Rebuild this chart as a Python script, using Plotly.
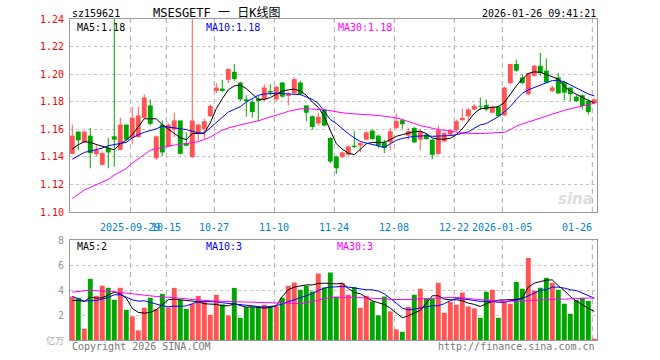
import plotly.graph_objects as go

# ---------------- data ----------------
dates = (
    ["2025-09-15", "2025-09-16", "2025-09-17", "2025-09-18", "2025-09-19", "2025-09-22", "2025-09-23",
     "2025-09-24", "2025-09-25", "2025-09-26", "2025-09-29", "2025-09-30",
     "2025-10-09", "2025-10-10", "2025-10-13", "2025-10-14", "2025-10-15", "2025-10-16", "2025-10-17",
     "2025-10-20", "2025-10-21", "2025-10-22", "2025-10-23", "2025-10-24", "2025-10-27", "2025-10-28",
     "2025-10-29", "2025-10-30", "2025-10-31",
     "2025-11-03", "2025-11-04", "2025-11-05", "2025-11-06", "2025-11-07", "2025-11-10", "2025-11-11",
     "2025-11-12", "2025-11-13", "2025-11-14", "2025-11-17", "2025-11-18", "2025-11-19", "2025-11-20",
     "2025-11-21", "2025-11-24", "2025-11-25", "2025-11-26", "2025-11-27", "2025-11-28",
     "2025-12-01", "2025-12-02", "2025-12-03", "2025-12-04", "2025-12-05", "2025-12-08", "2025-12-09",
     "2025-12-10", "2025-12-11", "2025-12-12", "2025-12-15", "2025-12-16", "2025-12-17", "2025-12-18",
     "2025-12-19", "2025-12-22", "2025-12-23", "2025-12-24", "2025-12-25", "2025-12-26", "2025-12-29",
     "2025-12-30", "2025-12-31",
     "2026-01-05", "2026-01-06", "2026-01-07", "2026-01-08", "2026-01-09", "2026-01-12", "2026-01-13",
     "2026-01-14", "2026-01-15", "2026-01-16", "2026-01-19", "2026-01-20", "2026-01-21", "2026-01-22",
     "2026-01-23", "2026-01-26"]
)

opens = [1.1422, 1.1583, 1.1505, 1.1554, 1.1420, 1.1342, 1.1464, 1.1549, 1.1451, 1.1634,
         1.1537, 1.1544, 1.1683, 1.1773, 1.1390, 1.1634, 1.1476, 1.1598, 1.1664, 1.1500,
         1.1398, 1.1573, 1.1603, 1.1695, 1.1878, 1.1895, 1.1959, 1.2017, 1.1939, 1.1817,
         1.1798, 1.1822, 1.1817, 1.1878, 1.1817, 1.1939, 1.1842, 1.1861, 1.1939, 1.1773,
         1.1695, 1.1642, 1.1744, 1.1537, 1.1403, 1.1398, 1.1415, 1.1481, 1.1481, 1.1525,
         1.1590, 1.1554, 1.1505, 1.1505, 1.1610, 1.1666, 1.1554, 1.1610, 1.1525, 1.1561,
         1.1525, 1.1422, 1.1512, 1.1561, 1.1593, 1.1666, 1.1695, 1.1744, 1.1769, 1.1776,
         1.1720, 1.1764, 1.1700, 1.1935, 1.2074, 1.1976, 1.1854, 1.1988, 1.2061, 1.2025,
         1.1878, 1.1976, 1.1944, 1.1903, 1.1837, 1.1847, 1.1805, 1.1788]
highs = [1.1634, 1.1586, 1.1590, 1.1610, 1.1488, 1.1439, 1.1537, 1.2400, 1.1683, 1.1634,
         1.1764, 1.1764, 1.1854, 1.1817, 1.1554, 1.1664, 1.1642, 1.1720, 1.1664, 1.1578,
         1.2400, 1.1639, 1.1676, 1.1781, 1.1935, 1.1959, 1.2042, 1.2074, 1.1944, 1.1847,
         1.1817, 1.1842, 1.1927, 1.1927, 1.1915, 1.1944, 1.1871, 1.1976, 1.1952, 1.1773,
         1.1700, 1.1720, 1.1749, 1.1544, 1.1408, 1.1439, 1.1481, 1.1586, 1.1505, 1.1586,
         1.1598, 1.1561, 1.1525, 1.1610, 1.1715, 1.1676, 1.1610, 1.1617, 1.1598, 1.1573,
         1.1529, 1.1627, 1.1578, 1.1603, 1.1671, 1.1749, 1.1756, 1.1781, 1.1830, 1.1817,
         1.1773, 1.1773, 1.1908, 1.2074, 1.2105, 1.2000, 1.2008, 1.2066, 1.2154, 1.2115,
         1.1915, 1.2008, 1.1952, 1.1903, 1.1854, 1.1854, 1.1817, 1.1822]
lows = [1.1417, 1.1447, 1.1500, 1.1317, 1.1403, 1.1337, 1.1317, 1.1329, 1.1447, 1.1520,
        1.1495, 1.1537, 1.1681, 1.1627, 1.1378, 1.1408, 1.1471, 1.1544, 1.1417, 1.1476,
        1.1390, 1.1520, 1.1525, 1.1691, 1.1861, 1.1871, 1.1935, 1.1952, 1.1805, 1.1691,
        1.1683, 1.1659, 1.1805, 1.1847, 1.1805, 1.1830, 1.1773, 1.1847, 1.1847, 1.1659,
        1.1598, 1.1627, 1.1622, 1.1354, 1.1276, 1.1390, 1.1408, 1.1464, 1.1432, 1.1520,
        1.1525, 1.1464, 1.1427, 1.1447, 1.1603, 1.1603, 1.1525, 1.1500, 1.1447, 1.1525,
        1.1383, 1.1415, 1.1505, 1.1554, 1.1586, 1.1659, 1.1659, 1.1739, 1.1739, 1.1732,
        1.1715, 1.1691, 1.1695, 1.1927, 1.2017, 1.1927, 1.1847, 1.1983, 1.1988, 1.1935,
        1.1871, 1.1854, 1.1812, 1.1805, 1.1798, 1.1744, 1.1708, 1.1781]
closes = [1.1554, 1.1520, 1.1583, 1.1427, 1.1451, 1.1427, 1.1432, 1.1525, 1.1634, 1.1525,
          1.1683, 1.1700, 1.1830, 1.1639, 1.1549, 1.1432, 1.1634, 1.1664, 1.1422, 1.1481,
          1.1664, 1.1634, 1.1659, 1.1769, 1.1903, 1.1878, 1.2037, 1.1964, 1.1817, 1.1805,
          1.1725, 1.1805, 1.1903, 1.1866, 1.1908, 1.1837, 1.1854, 1.1964, 1.1854, 1.1720,
          1.1617, 1.1691, 1.1627, 1.1366, 1.1317, 1.1432, 1.1476, 1.1471, 1.1500, 1.1578,
          1.1529, 1.1481, 1.1464, 1.1586, 1.1659, 1.1637, 1.1586, 1.1505, 1.1586, 1.1529,
          1.1415, 1.1593, 1.1573, 1.1593, 1.1659, 1.1683, 1.1744, 1.1769, 1.1764, 1.1744,
          1.1764, 1.1695, 1.1903, 1.2074, 1.2025, 1.1935, 1.2008, 1.2061, 1.2008, 1.1939,
          1.1903, 1.1861, 1.1866, 1.1854, 1.1805, 1.1769, 1.1725, 1.1817]

# volume in 万 (ten-thousands)
volumes = [3.48, 3.38, 0.90, 4.89, 3.54, 4.34, 4.18, 3.22, 4.18, 2.42,
           1.89, 0.77, 2.58, 3.38, 2.50, 3.69, 2.61, 4.17, 3.20, 2.49,
           2.89, 3.53, 3.15, 2.01, 3.61, 2.85, 1.96, 4.17, 1.78, 2.63,
           2.63, 2.63, 2.82, 2.71, 2.71, 3.38, 4.34, 4.60, 4.02, 4.34,
           3.88, 5.32, 4.20, 5.40, 3.48, 4.55, 3.62, 4.23, 2.58, 3.54,
           3.09, 1.97, 3.48, 2.29, 0.85, 0.66, 2.66, 3.62, 4.10, 3.32,
           3.32, 4.57, 2.18, 3.06, 2.82, 3.80, 2.69, 2.53, 1.78, 3.86,
           4.02, 1.78, 3.06, 2.90, 4.65, 4.10, 6.57, 3.94, 4.18, 4.97,
           4.57, 4.02, 2.90, 2.10, 3.22, 3.38, 3.14, 0.10]

ma5 = [1.1456, 1.1488, 1.1510, 1.1505, 1.1490, 1.1476, 1.1461, 1.1451, 1.1495, 1.1520,
       1.1561, 1.1617, 1.1676, 1.1676, 1.1676, 1.1634, 1.1603, 1.1573, 1.1539, 1.1525,
       1.1569, 1.1569, 1.1571, 1.1647, 1.1749, 1.1822, 1.1886, 1.1915, 1.1920, 1.1895,
       1.1856, 1.1817, 1.1817, 1.1830, 1.1854, 1.1876, 1.1886, 1.1891, 1.1878, 1.1847,
       1.1798, 1.1759, 1.1691, 1.1586, 1.1495, 1.1456, 1.1427, 1.1415, 1.1456, 1.1495,
       1.1505, 1.1505, 1.1505, 1.1525, 1.1549, 1.1561, 1.1573, 1.1583, 1.1586, 1.1569,
       1.1537, 1.1529, 1.1529, 1.1534, 1.1561, 1.1603, 1.1659, 1.1715, 1.1749, 1.1756,
       1.1759, 1.1764, 1.1793, 1.1854, 1.1915, 1.1964, 1.2005, 1.2017, 1.2013, 1.1998,
       1.1983, 1.1964, 1.1910, 1.1878, 1.1854, 1.1830, 1.1810, 1.1793]
ma10 = [1.1383, 1.1408, 1.1432, 1.1442, 1.1451, 1.1464, 1.1481, 1.1490, 1.1500, 1.1505,
        1.1537, 1.1561, 1.1578, 1.1588, 1.1603, 1.1622, 1.1617, 1.1608, 1.1603, 1.1598,
        1.1586, 1.1573, 1.1573, 1.1610, 1.1652, 1.1691, 1.1725, 1.1744, 1.1764, 1.1798,
        1.1822, 1.1847, 1.1856, 1.1861, 1.1861, 1.1859, 1.1854, 1.1854, 1.1852, 1.1834,
        1.1817, 1.1788, 1.1732, 1.1671, 1.1642, 1.1603, 1.1569, 1.1537, 1.1512, 1.1500,
        1.1488, 1.1476, 1.1469, 1.1495, 1.1520, 1.1534, 1.1544, 1.1549, 1.1551, 1.1554,
        1.1549, 1.1549, 1.1549, 1.1554, 1.1561, 1.1571, 1.1581, 1.1608, 1.1632, 1.1642,
        1.1666, 1.1691, 1.1727, 1.1764, 1.1817, 1.1861, 1.1886, 1.1903, 1.1925, 1.1939,
        1.1954, 1.1956, 1.1944, 1.1922, 1.1900, 1.1878, 1.1856, 1.1842]
ma30 = [1.1098, 1.1129, 1.1159, 1.1178, 1.1198, 1.1217, 1.1237, 1.1268, 1.1293, 1.1315,
        1.1354, 1.1388, 1.1417, 1.1447, 1.1461, 1.1466, 1.1476, 1.1486, 1.1490, 1.1495,
        1.1500, 1.1510, 1.1525, 1.1544, 1.1569, 1.1593, 1.1610, 1.1622, 1.1630, 1.1642,
        1.1652, 1.1661, 1.1676, 1.1688, 1.1703, 1.1715, 1.1730, 1.1742, 1.1749, 1.1749,
        1.1749, 1.1744, 1.1742, 1.1734, 1.1725, 1.1720, 1.1715, 1.1712, 1.1712, 1.1710,
        1.1708, 1.1700, 1.1695, 1.1691, 1.1683, 1.1671, 1.1659, 1.1642, 1.1627, 1.1617,
        1.1608, 1.1598, 1.1593, 1.1586, 1.1578, 1.1573, 1.1571, 1.1569, 1.1569, 1.1571,
        1.1573, 1.1573, 1.1578, 1.1598, 1.1622, 1.1639, 1.1652, 1.1666, 1.1681, 1.1695,
        1.1710, 1.1725, 1.1737, 1.1749, 1.1759, 1.1769, 1.1778, 1.1788]

vol_ma5 = [3.16, 3.16, 3.09, 3.43, 3.35, 3.38, 3.59, 3.83, 3.70, 3.35,
           2.53, 2.21, 2.15, 2.21, 2.42, 2.79, 3.22, 3.27, 3.22, 3.19,
           3.16, 3.06, 2.90, 2.90, 2.85, 2.74, 2.74, 2.90, 2.79, 2.63,
           2.66, 2.58, 2.55, 2.61, 2.74, 3.48, 4.02, 4.23, 4.34, 4.41,
           4.41, 4.52, 4.55, 4.49, 4.49, 4.55, 4.12, 3.80, 3.70, 3.40,
           3.14, 2.98, 2.85, 2.55, 2.15, 1.78, 1.94, 2.15, 2.37, 2.95,
           3.54, 3.54, 3.27, 3.22, 3.22, 3.14, 2.95, 2.85, 2.69, 2.90,
           3.09, 3.19, 3.22, 3.27, 3.24, 3.35, 4.23, 4.55, 4.65, 4.79,
           4.81, 4.34, 3.96, 3.48, 3.11, 2.79, 2.53, 2.29]
vol_ma10 = [3.48, 3.27, 3.11, 3.14, 3.16, 3.27, 3.40, 3.62, 3.62, 3.43,
            3.22, 3.11, 3.14, 3.01, 2.87, 2.74, 2.66, 2.71, 2.69, 2.74,
            2.90, 3.06, 3.09, 3.09, 3.06, 2.98, 2.93, 2.87, 2.82, 2.74,
            2.69, 2.63, 2.63, 2.69, 2.74, 2.90, 3.06, 3.19, 3.38, 3.54,
            3.70, 3.96, 4.15, 4.23, 4.26, 4.28, 4.23, 4.15, 4.07, 4.02,
            4.02, 3.91, 3.70, 3.35, 2.95, 2.55, 2.42, 2.47, 2.58, 2.66,
            2.74, 2.74, 2.90, 3.16, 3.32, 3.30, 3.22, 3.14, 3.09, 3.09,
            3.09, 3.01, 3.03, 3.14, 3.19, 3.32, 3.51, 3.75, 3.99, 4.02,
            4.23, 4.23, 4.15, 4.02, 3.96, 3.75, 3.54, 3.35]
vol_ma30 = [3.83, 3.88, 3.96, 3.99, 3.94, 3.88, 3.88, 3.86, 3.80, 3.75,
            3.70, 3.62, 3.56, 3.51, 3.48, 3.46, 3.43, 3.40, 3.35, 3.30,
            3.24, 3.19, 3.16, 3.14, 3.11, 3.09, 3.09, 3.09, 3.06, 3.03,
            3.01, 2.98, 2.95, 2.93, 2.93, 2.95, 2.95, 2.93, 2.90, 2.98,
            3.09, 3.19, 3.30, 3.40, 3.40, 3.43, 3.43, 3.40, 3.38, 3.35,
            3.35, 3.35, 3.30, 3.24, 3.22, 3.22, 3.24, 3.27, 3.30, 3.32,
            3.35, 3.38, 3.40, 3.40, 3.40, 3.38, 3.32, 3.27, 3.22, 3.16,
            3.14, 3.11, 3.09, 3.09, 3.09, 3.11, 3.16, 3.19, 3.22, 3.24,
            3.27, 3.27, 3.27, 3.30, 3.32, 3.35, 3.35, 3.35]

price_ticks = [1.10, 1.12, 1.14, 1.16, 1.18, 1.20, 1.22, 1.24]
vol_ticks = [2, 4, 6, 8]
label_dates = ["2025-09-29", "2025-10-15", "2025-10-27", "2025-11-10", "2025-11-24",
               "2025-12-08", "2025-12-22", "2026-01-05", "2026-01-26"]
label_texts = ["2025-09-29", "10-15", "10-27", "11-10", "11-24",
               "12-08", "12-22", "2026-01-05", "01-26"]
vol_grid_dates = ["2025-09-29", "2025-10-15", "2025-11-10", "2025-12-08",
                  "2025-12-22", "2026-01-05", "2026-01-26"]

symbol = "sz159621"
title = "MSESGETF 一 日K线图"
stamp = "2026-01-26 09:41:21"
legend_main = [("MA5:1.18", "#000000"), ("MA10:1.18", "#0000FF"), ("MA30:1.18", "#FF00FF")]
legend_vol = [("MA5:2", "#000000"), ("MA10:3", "#0000FF"), ("MA30:3", "#FF00FF")]

# ---------------- styling ----------------
UP = "#FF5555"
DOWN = "#00A600"
MONO = "DejaVu Sans Mono, Noto Sans CJK SC, monospace"
W, H = 660, 360
L, R, T, B = 70, 63, 19, 20
PW, PH = W - L - R, H - T - B


def px_x(px):
    return (px - L) / PW


def px_y(py):
    return (H - B - py) / PH


n = len(dates)
xs = list(range(n))
idx = {d: i for i, d in enumerate(dates)}
up = [c >= o for o, c in zip(opens, closes)]
cols = [UP if u else DOWN for u in up]

fig = go.Figure()

# wicks
for flag, col in ((True, UP), (False, DOWN)):
    wx, wy = [], []
    for i in xs:
        if up[i] == flag:
            wx += [i, i, None]
            wy += [lows[i], highs[i], None]
    fig.add_trace(go.Scatter(x=wx, y=wy, mode="lines", line=dict(color=col, width=1),
                             xaxis="x", yaxis="y", hoverinfo="skip"))

# bodies
min_body = 0.0006
fig.add_trace(go.Bar(
    x=xs,
    base=[min(o, c) for o, c in zip(opens, closes)],
    y=[max(abs(c - o), min_body) for o, c in zip(opens, closes)],
    width=0.82, marker=dict(color=cols, line=dict(width=0)),
    xaxis="x", yaxis="y", hoverinfo="skip"))

# price moving averages
for arr, col in ((ma5, "#000000"), (ma10, "#0000FF"), (ma30, "#FF00FF")):
    fig.add_trace(go.Scatter(x=xs, y=arr, mode="lines", line=dict(color=col, width=1),
                             xaxis="x", yaxis="y", hoverinfo="skip"))

# volume bars
fig.add_trace(go.Bar(x=xs, y=volumes, width=0.82, marker=dict(color=cols, line=dict(width=0)),
                     xaxis="x2", yaxis="y2", hoverinfo="skip"))
for arr, col in ((vol_ma5, "#000000"), (vol_ma10, "#0000FF"), (vol_ma30, "#FF00FF")):
    fig.add_trace(go.Scatter(x=xs, y=arr, mode="lines", line=dict(color=col, width=1),
                             xaxis="x2", yaxis="y2", hoverinfo="skip"))

xr = [-0.38, 87.45]
main_dom = [px_y(212), 1.0]
vol_dom = [0.0, px_y(240)]
frame = "#999999"
grid = "#C4C4C4"

fig.update_layout(
    width=W, height=H, margin=dict(l=L, r=R, t=T, b=B),
    paper_bgcolor="white", plot_bgcolor="white",
    showlegend=False, hovermode=False, barmode="overlay",
    font=dict(family=MONO, size=10),
    xaxis=dict(domain=[0, 1], range=xr, anchor="y", showticklabels=False, showgrid=False,
               zeroline=False, showline=True, mirror=True, linecolor=frame, linewidth=1, ticks=""),
    yaxis=dict(domain=main_dom, range=[1.10, 1.24], tickvals=price_ticks, tickformat=".2f",
               tickfont=dict(color="#FF0000", size=10, family=MONO), showgrid=True, gridcolor=grid,
               griddash="dot", gridwidth=1, zeroline=False, showline=True, mirror=True,
               linecolor=frame, linewidth=1, ticks="", ticklabelstandoff=3),
    xaxis2=dict(domain=[0, 1], range=xr, anchor="y2", showticklabels=False, showgrid=False,
                zeroline=False, showline=True, mirror=True, linecolor=frame, linewidth=1, ticks=""),
    yaxis2=dict(domain=vol_dom, range=[0, 8], tickvals=vol_ticks,
                tickfont=dict(color="#999999", size=10, family=MONO), showgrid=True, gridcolor=grid,
                griddash="dot", gridwidth=1, zeroline=False, showline=True, mirror=True,
                linecolor=frame, linewidth=1, ticks="", ticklabelstandoff=3),
)

# vertical dashed grid lines
dash_off = 0.33
for d in label_dates:
    i = idx[d]
    fig.add_shape(type="line", xref="x", yref="y domain", x0=i - dash_off, x1=i - dash_off,
                  y0=0, y1=1, line=dict(color="#AAAAAA", width=1, dash="5px,4px"), layer="below")
for d in vol_grid_dates:
    i = idx[d]
    fig.add_shape(type="line", xref="x2", yref="y2 domain", x0=i - dash_off, x1=i - dash_off,
                  y0=0, y1=1, line=dict(color="#AAAAAA", width=1, dash="5px,4px"), layer="below")

ann = []
# date labels
for k, (d, t) in enumerate(zip(label_dates, label_texts)):
    i = idx[d]
    last = k == len(label_dates) - 1
    ann.append(dict(xref="x", yref="paper", x=(i - 0.05) if last else (i - dash_off),
                    y=px_y(227), text=t, showarrow=False, xanchor="right" if last else "center",
                    yanchor="middle", font=dict(color="#0082D2", size=10, family=MONO)))

# header
ann.append(dict(xref="paper", yref="paper", x=px_x(70), y=px_y(13), text=symbol, showarrow=False,
                xanchor="left", yanchor="middle", font=dict(color="#000000", size=10, family=MONO)))
ann.append(dict(xref="paper", yref="paper", x=px_x(151), y=px_y(13), text=title, showarrow=False,
                xanchor="left", yanchor="middle", font=dict(color="#000000", size=12, family=MONO)))
ann.append(dict(xref="paper", yref="paper", x=px_x(598), y=px_y(13), text=stamp, showarrow=False,
                xanchor="right", yanchor="middle", font=dict(color="#000000", size=10, family=MONO)))

# legends
for (t, c), xp in zip(legend_main, (75, 204, 336)):
    ann.append(dict(xref="paper", yref="paper", x=px_x(xp), y=px_y(27), text=t, showarrow=False,
                    xanchor="left", yanchor="middle", font=dict(color=c, size=10, family=MONO)))
for (t, c), xp in zip(legend_vol, (75, 204, 335)):
    ann.append(dict(xref="paper", yref="paper", x=px_x(xp), y=px_y(246), text=t, showarrow=False,
                    xanchor="left", yanchor="middle", font=dict(color=c, size=10, family=MONO)))

# volume unit
ann.append(dict(xref="paper", yref="paper", x=px_x(66), y=px_y(340), text="亿万", showarrow=False,
                xanchor="right", yanchor="middle", font=dict(color="#AAAAAA", size=9, family=MONO)))

# footer
ann.append(dict(xref="paper", yref="paper", x=px_x(70), y=px_y(347), text="Copyright 2026 SINA.COM",
                showarrow=False, xanchor="left", yanchor="middle",
                font=dict(color="#777777", size=10, family=MONO)))
ann.append(dict(xref="paper", yref="paper", x=px_x(597), y=px_y(347), text="http://finance.sina.com.cn",
                showarrow=False, xanchor="right", yanchor="middle",
                font=dict(color="#777777", size=10, family=MONO)))

# watermark
ann.append(dict(xref="paper", yref="paper", x=px_x(595), y=px_y(199), text="<b><i>sina</i></b>",
                showarrow=False, xanchor="right", yanchor="middle",
                font=dict(color="#DDDDDD", size=15, family="DejaVu Sans")))

fig.update_layout(annotations=ann)
fig.write_html("out.html", config={"displayModeBar": False, "staticPlot": True},
               post_script="document.body.style.margin='0';document.body.style.overflow='hidden';")
